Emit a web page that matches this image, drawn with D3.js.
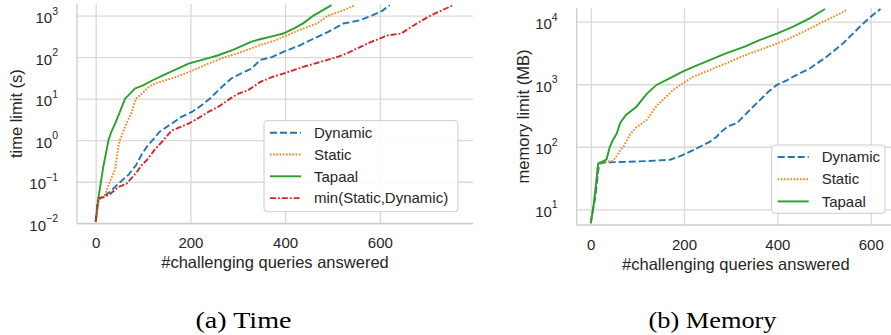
<!DOCTYPE html>
<html>
<head>
<meta charset="utf-8">
<script src="https://cdn.jsdelivr.net/npm/d3@7"></script>
<style>
  body { margin: 0; background: #fff; }
  text { font-family: "Liberation Sans", Arial, sans-serif; fill: #262626; }
</style>
</head>
<body>
<script>
// tick values and labels
var xTicks = [0, 200, 400, 600];
var timeTicks = [1e-2, 1e-1, 1e0, 1e1, 1e2, 1e3];
var memTicks = [1e1, 1e2, 1e3, 1e4];
var captions = ["(a) Time", "(b) Memory"];
var xLabel = "#challenging queries answered";

// time panel: #queries answered vs time limit (s)
var timeDynQ = [0, 3, 6, 16, 30, 48, 70, 85, 97, 110, 120, 135, 160, 182, 203, 220, 241, 266, 287, 310, 329, 347, 372, 396, 430, 453, 490, 523, 558, 583, 605, 621];
var timeDynT = [0.011, 0.025, 0.04, 0.044, 0.057, 0.09, 0.15, 0.25, 0.45, 0.75, 1.0, 1.6, 2.5, 3.7, 4.8, 6.5, 10, 19, 31, 42, 53, 85, 100, 133, 190, 255, 400, 645, 770, 1000, 1300, 1780];
var timeStaQ = [0, 5, 10, 20, 30, 41, 48, 51, 62, 75, 85, 100, 108, 118, 130, 168, 200, 238, 273, 308, 347, 379, 396, 430, 467, 491, 520, 548];
var timeStaT = [0.011, 0.03, 0.04, 0.05, 0.1, 0.2, 0.7, 1.0, 2.1, 4.5, 10, 14, 17.6, 21, 24, 33, 45, 70, 100, 133, 195, 250, 306, 450, 645, 1000, 1300, 1780];
var timeTapQ = [0, 3, 5, 9, 16, 23, 27, 33, 41, 50, 62, 72, 83, 100, 118, 150, 196, 245, 259, 290, 329, 347, 379, 396, 420, 438, 460, 498];
var timeTapT = [0.011, 0.02, 0.036, 0.07, 0.23, 0.58, 1.0, 1.6, 2.5, 4.5, 10, 13, 17.6, 21, 27, 40, 70, 100, 111, 150, 235, 270, 330, 370, 500, 650, 1000, 1780];
var timeMinQ = [0, 3, 6, 16, 30, 48, 65, 85, 97, 108, 125, 143, 160, 180, 196, 215, 238, 260, 284, 300, 322, 347, 372, 396, 438, 488, 509, 530, 551, 582, 617, 645, 678, 707, 755];
var timeMinT = [0.011, 0.025, 0.04, 0.042, 0.05, 0.075, 0.09, 0.16, 0.25, 0.33, 0.6, 1.0, 1.7, 2.1, 2.5, 3.3, 4.8, 6.5, 10, 13, 16, 25, 33, 40, 58, 85, 100, 122, 160, 233, 335, 370, 645, 1000, 1780];

// memory panel: #queries answered vs memory limit (MB)
var memDynQ = [0, 5, 10, 18, 30, 63, 120, 170, 198, 215, 234, 255, 270, 277, 295, 313, 327, 348, 363, 380, 399, 420, 434, 470, 506, 541, 577, 600, 621];
var memDynM = [6, 10, 16, 54, 56, 57, 59, 62, 74, 85, 100, 120, 145, 166, 215, 238, 304, 437, 562, 750, 975, 1150, 1320, 1800, 2770, 4530, 8350, 12000, 16000];
var memStaQ = [0, 5, 10, 16, 25, 48, 55, 62, 70, 85, 98, 120, 141, 177, 198, 220, 256, 291, 330, 363, 400, 434, 470, 506, 530, 549];
var memStaM = [6, 10, 20, 54, 56, 60, 70, 85, 100, 160, 205, 268, 450, 810, 1040, 1320, 1700, 2170, 2900, 3550, 4500, 5760, 7800, 10700, 13000, 15500];
var memTapQ = [0, 5, 10, 16, 25, 34, 41, 48, 56, 63, 75, 98, 120, 141, 170, 198, 220, 256, 291, 330, 363, 400, 434, 470, 502];
var memTapM = [6, 10, 20, 54, 58, 63, 100, 130, 164, 238, 320, 437, 700, 975, 1250, 1600, 1900, 2450, 3150, 4000, 5100, 6500, 8350, 11400, 16000];

var colors = { "Dynamic": "#1f77b4", "Static": "#ff7f0e", "Tapaal": "#2ca02c", "min(Static,Dynamic)": "#d62728" };
var dashes = { "Dynamic": "7,3", "Static": "1.6,1.6", "Tapaal": null, "min(Static,Dynamic)": "6,2,1.8,2" };

var svg = d3.select("body").append("svg")
    .attr("width", 891)
    .attr("height", 335);

function panel(cfg) {
  var g = svg.append("g");
  var x = d3.scaleLinear().domain(cfg.xDomain).range([cfg.left, cfg.right]);
  var y = d3.scaleLog().domain(cfg.yDomain).range([cfg.bottom, cfg.top]);

  // vertical grid + x tick labels
  var xa = g.append("g")
      .attr("transform", "translate(0," + cfg.bottom + ")")
      .call(d3.axisBottom(x).tickValues(xTicks).tickSize(-(cfg.bottom - cfg.top)).tickPadding(14.5));
  xa.select(".domain").remove();
  xa.selectAll("line").attr("stroke", "#d9d9d9").attr("stroke-width", 1.3);
  xa.selectAll("text").attr("font-size", 15).attr("fill", "#262626")
      .style("font-family", '"Liberation Sans", Arial, sans-serif');

  // horizontal grid
  var ya = g.append("g")
      .attr("transform", "translate(" + cfg.left + ",0)")
      .call(d3.axisLeft(y).tickValues(cfg.yTicks).tickSize(-(cfg.right - cfg.left)).tickFormat(""));
  ya.select(".domain").remove();
  ya.selectAll("line").attr("stroke", "#d9d9d9").attr("stroke-width", 1.3);

  // y tick labels 10^n
  cfg.yTicks.forEach(function(d) {
    var e = Math.round(Math.log10(d));
    var t = g.append("text")
        .attr("x", cfg.left - 19)
        .attr("y", y(d) + 7.5)
        .attr("text-anchor", "end")
        .attr("font-size", 15)
        .text("10");
    t.append("tspan").attr("dy", -8.5).attr("font-size", 10.5)
        .text(e < 0 ? "\u2212" + (-e) : String(e));
  });

  // spines (left, bottom)
  g.append("line").attr("x1", cfg.left).attr("x2", cfg.left)
      .attr("y1", cfg.top).attr("y2", cfg.bottom)
      .attr("stroke", "#cccccc").attr("stroke-width", 1.3);
  g.append("line").attr("x1", cfg.left).attr("x2", cfg.right)
      .attr("y1", cfg.bottom).attr("y2", cfg.bottom)
      .attr("stroke", "#cccccc").attr("stroke-width", 1.3);

  // series
  var line = d3.line().x(function(d) { return x(d[0]); }).y(function(d) { return y(d[1]); });
  cfg.series.forEach(function(s) {
    g.append("path")
        .datum(d3.zip(s.q, s.v))
        .attr("fill", "none")
        .attr("stroke", colors[s.name])
        .attr("stroke-width", 1.9)
        .attr("stroke-dasharray", dashes[s.name])
        .attr("d", line);
  });

  // axis labels
  g.append("text")
      .attr("x", (cfg.left + cfg.right) / 2)
      .attr("y", cfg.bottom + 45)
      .attr("text-anchor", "middle")
      .attr("font-size", 16.5)
      .text(xLabel);
  g.append("text")
      .attr("transform", "translate(" + cfg.yLabelX + "," + (cfg.top + cfg.bottom) / 2 + ") rotate(-90)")
      .attr("text-anchor", "middle")
      .attr("font-size", 16.5)
      .text(cfg.yLabel);

  // legend
  var L = cfg.legend;
  var lg = g.append("g");
  lg.append("rect")
      .attr("x", L.x).attr("y", L.y).attr("width", L.w).attr("height", L.h)
      .attr("rx", 3)
      .attr("fill", "#fff").attr("fill-opacity", 0.85)
      .attr("stroke", "#cccccc").attr("stroke-width", 1);
  cfg.series.forEach(function(s, i) {
    var cy = L.y + 12 + i * L.step;
    lg.append("line")
        .attr("x1", L.x + 6).attr("x2", L.x + 37)
        .attr("y1", cy).attr("y2", cy)
        .attr("stroke", colors[s.name])
        .attr("stroke-width", 1.9)
        .attr("stroke-dasharray", dashes[s.name]);
    lg.append("text")
        .attr("x", L.x + 50)
        .attr("y", cy + 5.2)
        .attr("font-size", 15)
        .text(s.name);
  });

  // caption
  svg.append("text")
      .attr("x", cfg.captionX)
      .attr("y", 328)
      .attr("text-anchor", "middle")
      .attr("font-size", 24)
      .attr("textLength", cfg.captionW)
      .attr("lengthAdjust", "spacingAndGlyphs")
      .style("font-family", '"Liberation Serif", "Times New Roman", serif')
      .style("fill", "#000")
      .text(cfg.caption);
}

panel({
  left: 77, right: 473, top: 4, bottom: 223.3,
  xDomain: [-39.5, 796.8], yDomain: [0.01, 1900], yTicks: timeTicks,
  yLabel: "time limit (s)", yLabelX: 21.5,
  series: [
    { name: "Dynamic", q: timeDynQ, v: timeDynT },
    { name: "Static", q: timeStaQ, v: timeStaT },
    { name: "Tapaal", q: timeTapQ, v: timeTapT },
    { name: "min(Static,Dynamic)", q: timeMinQ, v: timeMinT }
  ],
  legend: { x: 264, y: 120.7, w: 194, h: 91, step: 21.8 },
  caption: captions[0], captionX: 243.5, captionW: 96
});

panel({
  left: 576.7, right: 895, top: 8, bottom: 225,
  xDomain: [-30, 652], yDomain: [5.61, 16560], yTicks: memTicks,
  yLabel: "memory limit (MB)", yLabelX: 528.5,
  series: [
    { name: "Dynamic", q: memDynQ, v: memDynM },
    { name: "Static", q: memStaQ, v: memStaM },
    { name: "Tapaal", q: memTapQ, v: memTapM }
  ],
  legend: { x: 771.7, y: 145, w: 113.3, h: 68.3, step: 22.2 },
  caption: captions[1], captionX: 712.5, captionW: 128
});
</script>
</body>
</html>
